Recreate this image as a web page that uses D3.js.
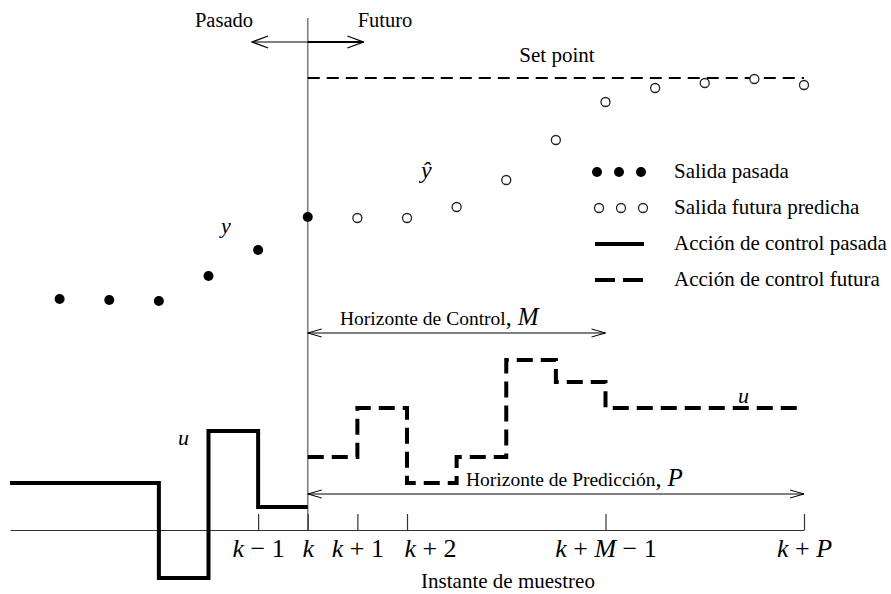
<!DOCTYPE html>
<html>
<head>
<meta charset="utf-8">
<script src="https://cdn.jsdelivr.net/npm/d3@7"></script>
<style>
	body { margin: 0; background: #fff; }
	svg { display: block; }
	text { font-family: "Liberation Serif", "Times New Roman", serif; fill: #000; }
	.math { font-style: italic; }
</style>
</head>
<body>
<div id="chart"></div>
<script>
"use strict";

// Sample instants (k = 0) and output values
var pastK = [-5, -4, -3, -2, -1, 0],
	pastY = [4.62, 4.60, 4.58, 5.08, 5.60, 6.26],
	futK = [1, 2, 3, 4, 5, 6, 7, 8, 9, 10],
	futY = [6.24, 6.24, 6.46, 7.00, 7.80, 8.56, 8.84, 8.94, 9.02, 8.90],
	setPoint = 9.04;

// Control action (step after each instant)
var uPastK = [-6, -3, -2, -1, 0],
	uPast = [0.94, -0.96, 1.98, 0.46, 0.46],
	uFutK = [0, 1, 2, 3, 4, 5, 6, 10],
	uFut = [1.46, 2.44, 0.94, 1.46, 3.40, 2.96, 2.44, 2.44];

// Tick labels on the time axis
var tickK = [-1, 0, 1, 2, 6, 10],
	tickLabels = [
		[["k", 1], [" \u2212 1", 0]],
		[["k", 1]],
		[["k", 1], [" + 1", 0]],
		[["k", 1], [" + 2", 0]],
		[["k", 1], [" + ", 0], ["M", 1], [" \u2212 1", 0]],
		[["k", 1], [" + ", 0], ["P", 1]]
	];

var width = 891,
	height = 594;

var x = d3.scaleLinear().domain([-6, 10]).range([10, 804]);
var y = d3.scaleLinear().domain([0, 10]).range([530, 30]);

var svg = d3.select("#chart").append("svg")
	.attr("width", width)
	.attr("height", height);

// Open chevron arrowheads
var defs = svg.append("defs");
function chevron(id, len, half, sw) {
	defs.append("marker")
		.attr("id", id)
		.attr("viewBox", "0 0 " + (len + 2) + " " + (half * 2 + 2))
		.attr("refX", len + 1)
		.attr("refY", half + 1)
		.attr("markerWidth", len + 2)
		.attr("markerHeight", half * 2 + 2)
		.attr("markerUnits", "userSpaceOnUse")
		.attr("orient", "auto-start-reverse")
		.append("path")
		.attr("d", "M1,1 L" + (len + 1) + "," + (half + 1) + " L1," + (half * 2 + 1))
		.attr("fill", "none")
		.attr("stroke", "#000")
		.attr("stroke-width", sw);
}
chevron("big", 16, 6, 1.3);
chevron("small", 14, 4, 1);

// Vertical line at instant k
svg.append("line")
	.attr("x1", x(0)).attr("x2", x(0))
	.attr("y1", 18).attr("y2", y(0))
	.attr("stroke", "#808080")
	.attr("stroke-width", 1.6);

// Time axis
var xAxis = d3.axisBottom(x)
	.tickValues(tickK)
	.tickSizeInner(-16)
	.tickSizeOuter(0)
	.tickPadding(9)
	.tickFormat(function () { return ""; });

var axisG = svg.append("g")
	.attr("transform", "translate(0," + y(0) + ")")
	.call(xAxis);
axisG.select(".domain").attr("stroke", "#333").attr("stroke-width", 1.2);
axisG.selectAll(".tick line").attr("stroke", "#333").attr("stroke-width", 1.2);
axisG.selectAll(".tick text")
	.attr("font-size", 26)
	.attr("font-family", "'Liberation Serif', serif")
	.attr("fill", "#000")
	.attr("dy", "0.71em")
	.attr("dx", function (d) { return d === 2 ? 23 : 0; }) // k+2 sits right of its tick
	.each(function (d, i) {
		var t = d3.select(this);
		tickLabels[i].forEach(function (p) {
			t.append("tspan")
				.attr("font-style", p[1] ? "italic" : "normal")
				.attr("xml:space", "preserve")
				.text(p[0]);
		});
	});

svg.append("text")
	.attr("x", 508).attr("y", 588)
	.attr("text-anchor", "middle")
	.attr("font-size", 21)
	.text("Instante de muestreo");

// Set point
svg.append("line")
	.attr("x1", x(0)).attr("x2", x(10))
	.attr("y1", y(setPoint)).attr("y2", y(setPoint))
	.attr("stroke", "#000")
	.attr("stroke-width", 2)
	.attr("stroke-dasharray", "12,7");
svg.append("text")
	.attr("x", 557).attr("y", 62)
	.attr("text-anchor", "middle")
	.attr("font-size", 21)
	.text("Set point");

// Past / future
svg.append("line")
	.attr("x1", x(0)).attr("x2", x(-1.12))
	.attr("y1", 42).attr("y2", 42)
	.attr("stroke", "#000").attr("stroke-width", 1.2)
	.attr("marker-end", "url(#big)");
svg.append("line")
	.attr("x1", x(0)).attr("x2", x(1.12))
	.attr("y1", 42).attr("y2", 42)
	.attr("stroke", "#000").attr("stroke-width", 1.8)
	.attr("marker-end", "url(#big)");
svg.append("text").attr("x", 224).attr("y", 27)
	.attr("text-anchor", "middle").attr("font-size", 20.5).text("Pasado");
svg.append("text").attr("x", 385).attr("y", 27)
	.attr("text-anchor", "middle").attr("font-size", 20.5).text("Futuro");

// Outputs
svg.selectAll(".past").data(pastK).enter().append("circle")
	.attr("class", "past")
	.attr("cx", function (d) { return x(d); })
	.attr("cy", function (d, i) { return y(pastY[i]); })
	.attr("r", 5)
	.attr("fill", "#000");

svg.selectAll(".fut").data(futK).enter().append("circle")
	.attr("class", "fut")
	.attr("cx", function (d) { return x(d); })
	.attr("cy", function (d, i) { return y(futY[i]); })
	.attr("r", 4.5)
	.attr("fill", "#fff")
	.attr("stroke", "#222")
	.attr("stroke-width", 1.3);

// Control actions
var stepLine = d3.line()
	.x(function (d) { return x(d[0]); })
	.y(function (d) { return y(d[1]); })
	.curve(d3.curveStepAfter);

svg.append("path")
	.datum(d3.zip(uPastK, uPast))
	.attr("d", stepLine)
	.attr("fill", "none")
	.attr("stroke", "#000")
	.attr("stroke-width", 4)
	.attr("stroke-linejoin", "miter");

svg.append("path")
	.datum(d3.zip(uFutK, uFut))
	.attr("d", stepLine)
	.attr("fill", "none")
	.attr("stroke", "#000")
	.attr("stroke-width", 4)
	.attr("stroke-dasharray", "16,8");

// Horizons
function horizon(k1, yy, label, sym, lx) {
	svg.append("line")
		.attr("x1", x(0)).attr("x2", x(k1))
		.attr("y1", yy).attr("y2", yy)
		.attr("stroke", "#000").attr("stroke-width", 1)
		.attr("marker-start", "url(#small)")
		.attr("marker-end", "url(#small)");
	var t = svg.append("text")
		.attr("x", lx).attr("y", yy - 8)
		.attr("font-size", 19.5);
	t.append("tspan").text(label);
	t.append("tspan").attr("font-size", 24).attr("xml:space", "preserve").text(", ");
	t.append("tspan").attr("font-size", 25).attr("font-style", "italic").text(sym);
}
horizon(6, 333, "Horizonte de Control", "M", 340);
horizon(10, 494, "Horizonte de Predicción", "P", 466);

// Symbols
function sym(tx, ty, s, fs) {
	svg.append("text").attr("x", tx).attr("y", ty)
		.attr("class", "math").attr("font-size", fs).text(s);
}
sym(221, 233, "y", 22);
sym(421, 178, "\u0177", 24);
sym(178, 445, "u", 22);
sym(738, 403, "u", 22);

// Legend
var legX = 597,
	legTextX = 674;
var legend = svg.append("g");
[597, 619, 641].forEach(function (lx) {
	legend.append("circle").attr("cx", lx).attr("cy", 172).attr("r", 5).attr("fill", "#000");
	legend.append("circle").attr("cx", lx + 2).attr("cy", 208).attr("r", 4.5)
		.attr("fill", "#fff").attr("stroke", "#222").attr("stroke-width", 1.3);
});
legend.append("line").attr("x1", legX - 2).attr("x2", 644)
	.attr("y1", 244).attr("y2", 244)
	.attr("stroke", "#000").attr("stroke-width", 4);
legend.append("line").attr("x1", legX - 2).attr("x2", 644)
	.attr("y1", 280).attr("y2", 280)
	.attr("stroke", "#000").attr("stroke-width", 4)
	.attr("stroke-dasharray", "20,8");
["Salida pasada", "Salida futura predicha", "Acción de control pasada", "Acción de control futura"]
	.forEach(function (s, i) {
		legend.append("text")
			.attr("x", legTextX).attr("y", 178 + i * 36)
			.attr("font-size", 21)
			.text(s);
	});
</script>
</body>
</html>
